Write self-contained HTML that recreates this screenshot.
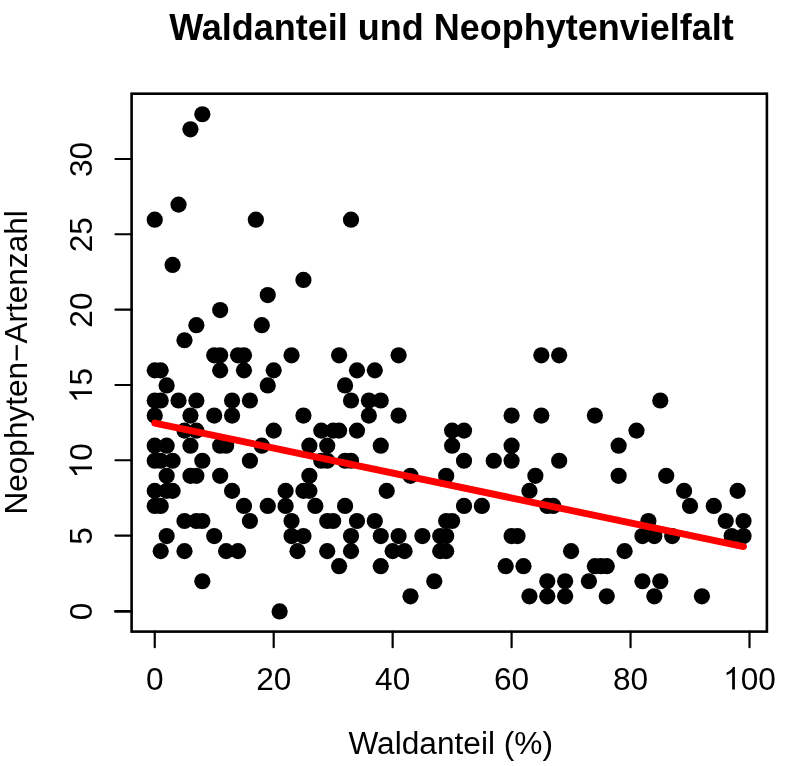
<!DOCTYPE html>
<html><head><meta charset="utf-8"><title>Waldanteil und Neophytenvielfalt</title>
<style>
html,body{margin:0;padding:0;background:#fff;}
body{width:800px;height:766px;overflow:hidden;font-family:"Liberation Sans",sans-serif;}
svg{display:block;will-change:transform;}
text{font-family:"Liberation Sans",sans-serif;fill:#000;}
.ax text{font-size:31.6px;}
</style></head><body>
<svg width="800" height="766" viewBox="0 0 800 766">
<rect x="0" y="0" width="800" height="766" fill="#ffffff"/>
<text id="title" x="451.5" y="39.6" text-anchor="middle" font-size="36" font-weight="bold">Waldanteil und Neophytenvielfalt</text>
<g fill="#000">
<circle cx="202.33" cy="114.25" r="8.1"/><circle cx="190.44" cy="129.32" r="8.1"/><circle cx="178.54" cy="204.64" r="8.1"/><circle cx="154.75" cy="219.71" r="8.1"/><circle cx="255.86" cy="219.71" r="8.1"/><circle cx="351.02" cy="219.71" r="8.1"/><circle cx="172.59" cy="264.90" r="8.1"/><circle cx="303.44" cy="279.97" r="8.1"/><circle cx="267.75" cy="295.03" r="8.1"/><circle cx="220.17" cy="310.10" r="8.1"/><circle cx="196.38" cy="325.16" r="8.1"/><circle cx="261.81" cy="325.16" r="8.1"/><circle cx="184.49" cy="340.23" r="8.1"/><circle cx="214.22" cy="355.29" r="8.1"/><circle cx="220.17" cy="355.29" r="8.1"/><circle cx="238.01" cy="355.29" r="8.1"/><circle cx="243.96" cy="355.29" r="8.1"/><circle cx="291.54" cy="355.29" r="8.1"/><circle cx="339.12" cy="355.29" r="8.1"/><circle cx="398.60" cy="355.29" r="8.1"/><circle cx="541.34" cy="355.29" r="8.1"/><circle cx="559.18" cy="355.29" r="8.1"/><circle cx="154.75" cy="370.36" r="8.1"/><circle cx="160.70" cy="370.36" r="8.1"/><circle cx="220.17" cy="370.36" r="8.1"/><circle cx="243.96" cy="370.36" r="8.1"/><circle cx="273.70" cy="370.36" r="8.1"/><circle cx="356.97" cy="370.36" r="8.1"/><circle cx="374.81" cy="370.36" r="8.1"/><circle cx="166.65" cy="385.42" r="8.1"/><circle cx="267.75" cy="385.42" r="8.1"/><circle cx="345.07" cy="385.42" r="8.1"/><circle cx="154.75" cy="400.49" r="8.1"/><circle cx="160.70" cy="400.49" r="8.1"/><circle cx="178.54" cy="400.49" r="8.1"/><circle cx="196.38" cy="400.49" r="8.1"/><circle cx="232.07" cy="400.49" r="8.1"/><circle cx="249.91" cy="400.49" r="8.1"/><circle cx="351.02" cy="400.49" r="8.1"/><circle cx="368.86" cy="400.49" r="8.1"/><circle cx="380.75" cy="400.49" r="8.1"/><circle cx="660.29" cy="400.49" r="8.1"/><circle cx="154.75" cy="415.55" r="8.1"/><circle cx="190.44" cy="415.55" r="8.1"/><circle cx="214.22" cy="415.55" r="8.1"/><circle cx="232.07" cy="415.55" r="8.1"/><circle cx="303.44" cy="415.55" r="8.1"/><circle cx="368.86" cy="415.55" r="8.1"/><circle cx="398.60" cy="415.55" r="8.1"/><circle cx="511.60" cy="415.55" r="8.1"/><circle cx="541.34" cy="415.55" r="8.1"/><circle cx="594.87" cy="415.55" r="8.1"/><circle cx="184.49" cy="430.62" r="8.1"/><circle cx="196.38" cy="430.62" r="8.1"/><circle cx="273.70" cy="430.62" r="8.1"/><circle cx="321.28" cy="430.62" r="8.1"/><circle cx="333.17" cy="430.62" r="8.1"/><circle cx="339.12" cy="430.62" r="8.1"/><circle cx="356.97" cy="430.62" r="8.1"/><circle cx="452.12" cy="430.62" r="8.1"/><circle cx="464.02" cy="430.62" r="8.1"/><circle cx="636.50" cy="430.62" r="8.1"/><circle cx="154.75" cy="445.68" r="8.1"/><circle cx="166.65" cy="445.68" r="8.1"/><circle cx="190.44" cy="445.68" r="8.1"/><circle cx="220.17" cy="445.68" r="8.1"/><circle cx="226.12" cy="445.68" r="8.1"/><circle cx="261.81" cy="445.68" r="8.1"/><circle cx="309.38" cy="445.68" r="8.1"/><circle cx="327.23" cy="445.68" r="8.1"/><circle cx="380.75" cy="445.68" r="8.1"/><circle cx="452.12" cy="445.68" r="8.1"/><circle cx="511.60" cy="445.68" r="8.1"/><circle cx="618.65" cy="445.68" r="8.1"/><circle cx="154.75" cy="460.75" r="8.1"/><circle cx="160.70" cy="460.75" r="8.1"/><circle cx="172.59" cy="460.75" r="8.1"/><circle cx="202.33" cy="460.75" r="8.1"/><circle cx="249.91" cy="460.75" r="8.1"/><circle cx="321.28" cy="460.75" r="8.1"/><circle cx="327.23" cy="460.75" r="8.1"/><circle cx="345.07" cy="460.75" r="8.1"/><circle cx="351.02" cy="460.75" r="8.1"/><circle cx="464.02" cy="460.75" r="8.1"/><circle cx="493.76" cy="460.75" r="8.1"/><circle cx="511.60" cy="460.75" r="8.1"/><circle cx="559.18" cy="460.75" r="8.1"/><circle cx="166.65" cy="475.81" r="8.1"/><circle cx="190.44" cy="475.81" r="8.1"/><circle cx="196.38" cy="475.81" r="8.1"/><circle cx="220.17" cy="475.81" r="8.1"/><circle cx="309.38" cy="475.81" r="8.1"/><circle cx="410.49" cy="475.81" r="8.1"/><circle cx="446.18" cy="475.81" r="8.1"/><circle cx="535.39" cy="475.81" r="8.1"/><circle cx="618.65" cy="475.81" r="8.1"/><circle cx="666.23" cy="475.81" r="8.1"/><circle cx="154.75" cy="490.88" r="8.1"/><circle cx="166.65" cy="490.88" r="8.1"/><circle cx="172.59" cy="490.88" r="8.1"/><circle cx="232.07" cy="490.88" r="8.1"/><circle cx="285.60" cy="490.88" r="8.1"/><circle cx="303.44" cy="490.88" r="8.1"/><circle cx="309.38" cy="490.88" r="8.1"/><circle cx="386.70" cy="490.88" r="8.1"/><circle cx="529.44" cy="490.88" r="8.1"/><circle cx="684.08" cy="490.88" r="8.1"/><circle cx="737.61" cy="490.88" r="8.1"/><circle cx="154.75" cy="505.94" r="8.1"/><circle cx="160.70" cy="505.94" r="8.1"/><circle cx="243.96" cy="505.94" r="8.1"/><circle cx="267.75" cy="505.94" r="8.1"/><circle cx="285.60" cy="505.94" r="8.1"/><circle cx="315.33" cy="505.94" r="8.1"/><circle cx="345.07" cy="505.94" r="8.1"/><circle cx="464.02" cy="505.94" r="8.1"/><circle cx="481.86" cy="505.94" r="8.1"/><circle cx="547.28" cy="505.94" r="8.1"/><circle cx="553.23" cy="505.94" r="8.1"/><circle cx="690.02" cy="505.94" r="8.1"/><circle cx="713.81" cy="505.94" r="8.1"/><circle cx="184.49" cy="521.01" r="8.1"/><circle cx="196.38" cy="521.01" r="8.1"/><circle cx="202.33" cy="521.01" r="8.1"/><circle cx="249.91" cy="521.01" r="8.1"/><circle cx="291.54" cy="521.01" r="8.1"/><circle cx="327.23" cy="521.01" r="8.1"/><circle cx="333.17" cy="521.01" r="8.1"/><circle cx="356.97" cy="521.01" r="8.1"/><circle cx="374.81" cy="521.01" r="8.1"/><circle cx="446.18" cy="521.01" r="8.1"/><circle cx="452.12" cy="521.01" r="8.1"/><circle cx="648.39" cy="521.01" r="8.1"/><circle cx="725.71" cy="521.01" r="8.1"/><circle cx="743.55" cy="521.01" r="8.1"/><circle cx="166.65" cy="536.07" r="8.1"/><circle cx="214.22" cy="536.07" r="8.1"/><circle cx="291.54" cy="536.07" r="8.1"/><circle cx="303.44" cy="536.07" r="8.1"/><circle cx="351.02" cy="536.07" r="8.1"/><circle cx="380.75" cy="536.07" r="8.1"/><circle cx="398.60" cy="536.07" r="8.1"/><circle cx="422.39" cy="536.07" r="8.1"/><circle cx="440.23" cy="536.07" r="8.1"/><circle cx="446.18" cy="536.07" r="8.1"/><circle cx="511.60" cy="536.07" r="8.1"/><circle cx="517.55" cy="536.07" r="8.1"/><circle cx="642.44" cy="536.07" r="8.1"/><circle cx="654.34" cy="536.07" r="8.1"/><circle cx="672.18" cy="536.07" r="8.1"/><circle cx="731.66" cy="536.07" r="8.1"/><circle cx="743.55" cy="536.07" r="8.1"/><circle cx="160.70" cy="551.14" r="8.1"/><circle cx="184.49" cy="551.14" r="8.1"/><circle cx="226.12" cy="551.14" r="8.1"/><circle cx="238.01" cy="551.14" r="8.1"/><circle cx="297.49" cy="551.14" r="8.1"/><circle cx="327.23" cy="551.14" r="8.1"/><circle cx="351.02" cy="551.14" r="8.1"/><circle cx="392.65" cy="551.14" r="8.1"/><circle cx="404.54" cy="551.14" r="8.1"/><circle cx="440.23" cy="551.14" r="8.1"/><circle cx="446.18" cy="551.14" r="8.1"/><circle cx="571.08" cy="551.14" r="8.1"/><circle cx="624.60" cy="551.14" r="8.1"/><circle cx="339.12" cy="566.20" r="8.1"/><circle cx="380.75" cy="566.20" r="8.1"/><circle cx="505.65" cy="566.20" r="8.1"/><circle cx="523.50" cy="566.20" r="8.1"/><circle cx="594.87" cy="566.20" r="8.1"/><circle cx="600.81" cy="566.20" r="8.1"/><circle cx="606.76" cy="566.20" r="8.1"/><circle cx="202.33" cy="581.27" r="8.1"/><circle cx="434.28" cy="581.27" r="8.1"/><circle cx="547.28" cy="581.27" r="8.1"/><circle cx="565.13" cy="581.27" r="8.1"/><circle cx="588.92" cy="581.27" r="8.1"/><circle cx="642.44" cy="581.27" r="8.1"/><circle cx="660.29" cy="581.27" r="8.1"/><circle cx="410.49" cy="596.33" r="8.1"/><circle cx="529.44" cy="596.33" r="8.1"/><circle cx="547.28" cy="596.33" r="8.1"/><circle cx="565.13" cy="596.33" r="8.1"/><circle cx="606.76" cy="596.33" r="8.1"/><circle cx="654.34" cy="596.33" r="8.1"/><circle cx="701.92" cy="596.33" r="8.1"/><circle cx="279.65" cy="611.40" r="8.1"/>
</g>
<line id="reg" x1="154.75" y1="423.09" x2="743.55" y2="546.62" stroke="#ff0000" stroke-width="6.9" stroke-linecap="round"/>
<rect x="131.6" y="93.7" width="635.3" height="537.9" fill="none" stroke="#000" stroke-width="2.6"/>
<g stroke="#000" stroke-width="2.2" stroke-linecap="round"><line x1="154.75" y1="631.6" x2="154.75" y2="647.2"/><line x1="273.70" y1="631.6" x2="273.70" y2="647.2"/><line x1="392.65" y1="631.6" x2="392.65" y2="647.2"/><line x1="511.60" y1="631.6" x2="511.60" y2="647.2"/><line x1="630.55" y1="631.6" x2="630.55" y2="647.2"/><line x1="749.50" y1="631.6" x2="749.50" y2="647.2"/><line x1="131.6" y1="611.40" x2="115.39999999999999" y2="611.40" stroke-width="2.8"/><line x1="131.6" y1="535.62" x2="115.39999999999999" y2="535.62" stroke-width="2.1"/><line x1="131.6" y1="460.30" x2="115.39999999999999" y2="460.30" stroke-width="2.1"/><line x1="131.6" y1="384.97" x2="115.39999999999999" y2="384.97" stroke-width="2.1"/><line x1="131.6" y1="309.65" x2="115.39999999999999" y2="309.65" stroke-width="2.1"/><line x1="131.6" y1="234.32" x2="115.39999999999999" y2="234.32" stroke-width="2.1"/><line x1="131.6" y1="159.00" x2="115.39999999999999" y2="159.00" stroke-width="2.1"/></g>
<g class="ax"><g transform="translate(154.75,689.6)"><text x="-8.79" y="0">0</text></g><g transform="translate(273.70,689.6)"><text x="-17.57" y="0">20</text></g><g transform="translate(392.65,689.6)"><text x="-17.57" y="0">40</text></g><g transform="translate(511.60,689.6)"><text x="-17.57" y="0">60</text></g><g transform="translate(630.55,689.6)"><text x="-17.57" y="0">80</text></g><g transform="translate(749.50,689.6)"><path transform="translate(-26.36,0) scale(0.015430,-0.015430)" d="M763 0H583V1147Q518 1085 412.5 1023Q307 961 223 930V1104Q374 1175 487 1276Q600 1377 647 1472H763Z"/><text x="-8.79" y="0">00</text></g><g transform="translate(92,611.40) rotate(-90)"><text x="-8.79" y="0">0</text></g><g transform="translate(92,536.07) rotate(-90)"><text x="-8.79" y="0">5</text></g><g transform="translate(92,460.75) rotate(-90)"><path transform="translate(-17.57,0) scale(0.015430,-0.015430)" d="M763 0H583V1147Q518 1085 412.5 1023Q307 961 223 930V1104Q374 1175 487 1276Q600 1377 647 1472H763Z"/><text x="0.00" y="0">0</text></g><g transform="translate(92,385.42) rotate(-90)"><path transform="translate(-17.57,0) scale(0.015430,-0.015430)" d="M763 0H583V1147Q518 1085 412.5 1023Q307 961 223 930V1104Q374 1175 487 1276Q600 1377 647 1472H763Z"/><text x="0.00" y="0">5</text></g><g transform="translate(92,310.10) rotate(-90)"><text x="-17.57" y="0">20</text></g><g transform="translate(92,234.77) rotate(-90)"><text x="-17.57" y="0">25</text></g><g transform="translate(92,159.45) rotate(-90)"><text x="-17.57" y="0">30</text></g></g>
<text id="xlab" x="450.7" y="754.2" text-anchor="middle" font-size="31.65">Waldanteil (%)</text>
<text id="ylab" transform="translate(27.4,362.4) rotate(-90)" text-anchor="middle" font-size="31.55">Neophyten−Artenzahl</text>
</svg>
</body></html>
